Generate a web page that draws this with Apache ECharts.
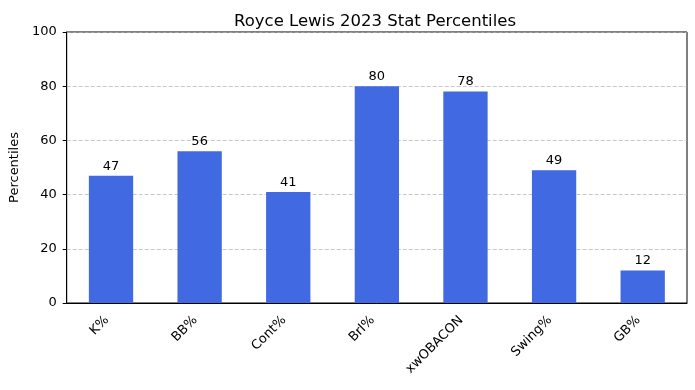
<!DOCTYPE html>
<html><head><meta charset="utf-8">
<script src="https://cdn.jsdelivr.net/npm/echarts@6/dist/echarts.min.js"></script>
<style>html,body{margin:0;padding:0;background:#fff}#c{width:695px;height:390px}</style>
</head><body><div id="c"></div>
<script>
const categories = ['K%', 'BB%', 'Cont%', 'Brl%', 'xwOBACON', 'Swing%', 'GB%'];
const percentiles = [47, 56, 41, 80, 78, 49, 12];
const yTicks = [0, 20, 40, 60, 80, 100];

const chart = echarts.init(document.getElementById('c'), null, {renderer: 'canvas'});
const font = 'DejaVu Sans';
chart.setOption({
  animation: false,
  backgroundColor: '#fff',
  title: {
    text: 'Royce Lewis 2023 Stat Percentiles',
    left: 370, top: 8, textAlign: 'center',
    textStyle: {fontFamily: font, fontSize: 16.5, fontWeight: 'normal', color: '#000'}
  },
  grid: {left: 66, right: 8, top: 32, bottom: 87, show: true, borderColor: '#000', borderWidth: 1, containLabel: false},
  xAxis: {
    type: 'category', data: categories, boundaryGap: true,
    axisLine: {lineStyle: {color: '#000', width: 1}},
    axisTick: {alignWithLabel: true, length: 4, lineStyle: {color: '#000'}},
    axisLabel: {rotate: 45, interval: 0, margin: 11, padding: [0, 6, 0, 0], fontFamily: font, fontSize: 13, color: '#000'},
    splitLine: {show: false}
  },
  yAxis: {
    type: 'value', min: yTicks[0], max: yTicks[yTicks.length - 1], interval: 20,
    name: 'Percentiles', nameLocation: 'middle', nameGap: 45,
    nameTextStyle: {fontFamily: font, fontSize: 13, color: '#000'},
    axisLine: {show: true, lineStyle: {color: '#000', width: 1}},
    axisTick: {show: true, length: 4, lineStyle: {color: '#000'}},
    axisLabel: {margin: 10, fontFamily: font, fontSize: 13, color: '#000'},
    splitLine: {show: true, lineStyle: {color: 'rgba(176,176,176,0.7)', type: [4, 2], width: 1}}
  },
  series: [{
    type: 'bar', data: percentiles, barWidth: '50%',
    itemStyle: {color: '#4169E1'},
    label: {show: true, position: 'top', distance: 3, fontFamily: font, fontSize: 13, color: '#000'}
  }]
});
</script></body></html>
